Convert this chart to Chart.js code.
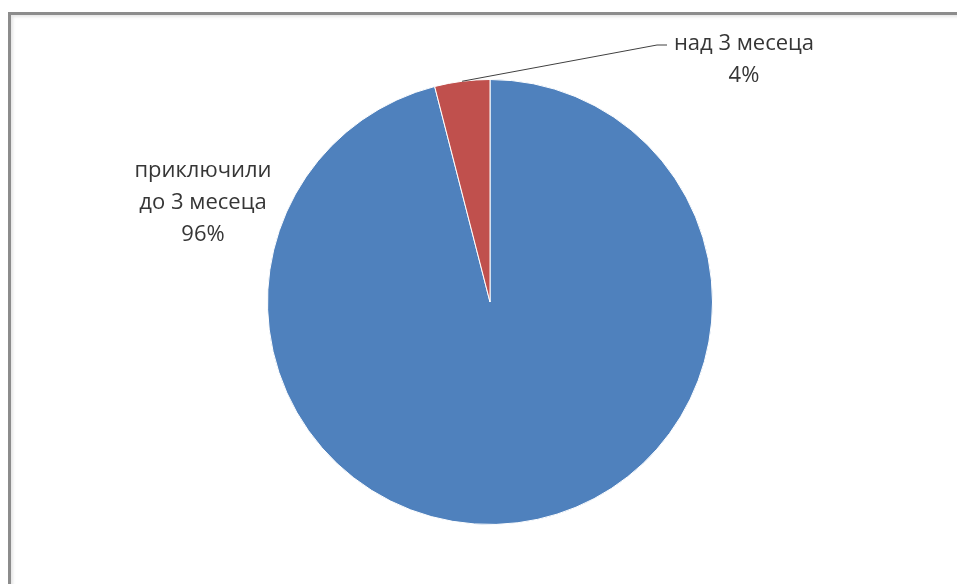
<!DOCTYPE html>
<html>
<head>
<meta charset="utf-8">
<script src="https://cdn.jsdelivr.net/npm/chart.js@4/dist/chart.umd.min.js"></script>
<style>
  html, body { margin: 0; padding: 0; background: #fff; }
  #wrap { position: relative; width: 957px; height: 584px; overflow: hidden; }
  #frame {
    position: absolute; left: 8px; top: 12px; width: 1000px; height: 700px;
    border-left: 3px solid #8c8c8c; border-top: 3px solid #8c8c8c;
    box-shadow: inset 2px 2px 3px #e6e6e6;
  }
  canvas { position: absolute; left: 0; top: 0; }
</style>
</head>
<body>
<div id="wrap">
  <div id="frame"></div>
  <canvas id="chart" width="957" height="584"></canvas>
</div>
<script>
// Values
const categories = ["приключили до 3 месеца", "над 3 месеца"];
const labelLines = [["приключили", "до 3 месеца"], ["над 3 месеца"]];
const percentages = [96, 4];
const sliceColors = ["#4F81BD", "#C0504D"];

// Data labels placed like Excel's outside labels, with a leader line for the small slice
const pieLabels = {
    id: "pieLabels",
    afterDatasetsDraw(chart, args, opts) {
        const ctx = chart.ctx;
        const meta = chart.getDatasetMeta(0);
        ctx.save();
        ctx.font = opts.font;
        ctx.fillStyle = "#363636";
        ctx.textAlign = "center";
        ctx.textBaseline = "middle";
        meta.data.forEach((arc, i) => {
            const place = opts.places[i];
            const lines = labelLines[i].concat([percentages[i] + "%"]);
            lines.forEach((line, k) => {
                ctx.fillText(line, place.x, place.y + k * opts.lineHeight);
            });
            if (place.leader) {
                const mid = (arc.startAngle + arc.endAngle) / 2;
                const sx = arc.x + Math.cos(mid) * arc.outerRadius;
                const sy = arc.y + Math.sin(mid) * arc.outerRadius;
                ctx.strokeStyle = "#404040";
                ctx.lineWidth = 1;
                ctx.beginPath();
                ctx.moveTo(sx, sy);
                ctx.lineTo(place.leader.x - 10, place.leader.y);
                ctx.lineTo(place.leader.x, place.leader.y);
                ctx.stroke();
            }
        });
        ctx.restore();
    }
};

new Chart(document.getElementById("chart").getContext("2d"), {
    type: "pie",
    data: {
        labels: categories,
        datasets: [{
            data: percentages,
            backgroundColor: sliceColors,
            borderColor: "#ffffff",
            borderWidth: 1
        }]
    },
    options: {
        responsive: false,
        animation: false,
        layout: { padding: { left: 267, right: 244, top: 79, bottom: 59 } },
        plugins: {
            legend: { display: false },
            tooltip: { enabled: false },
            pieLabels: {
                font: "22px 'Open Sans', sans-serif",
                lineHeight: 32,
                places: [
                    { x: 203, y: 171 },
                    { x: 744, y: 44, leader: { x: 667, y: 45 } }
                ]
            }
        }
    },
    plugins: [pieLabels]
});
</script>
</body>
</html>
